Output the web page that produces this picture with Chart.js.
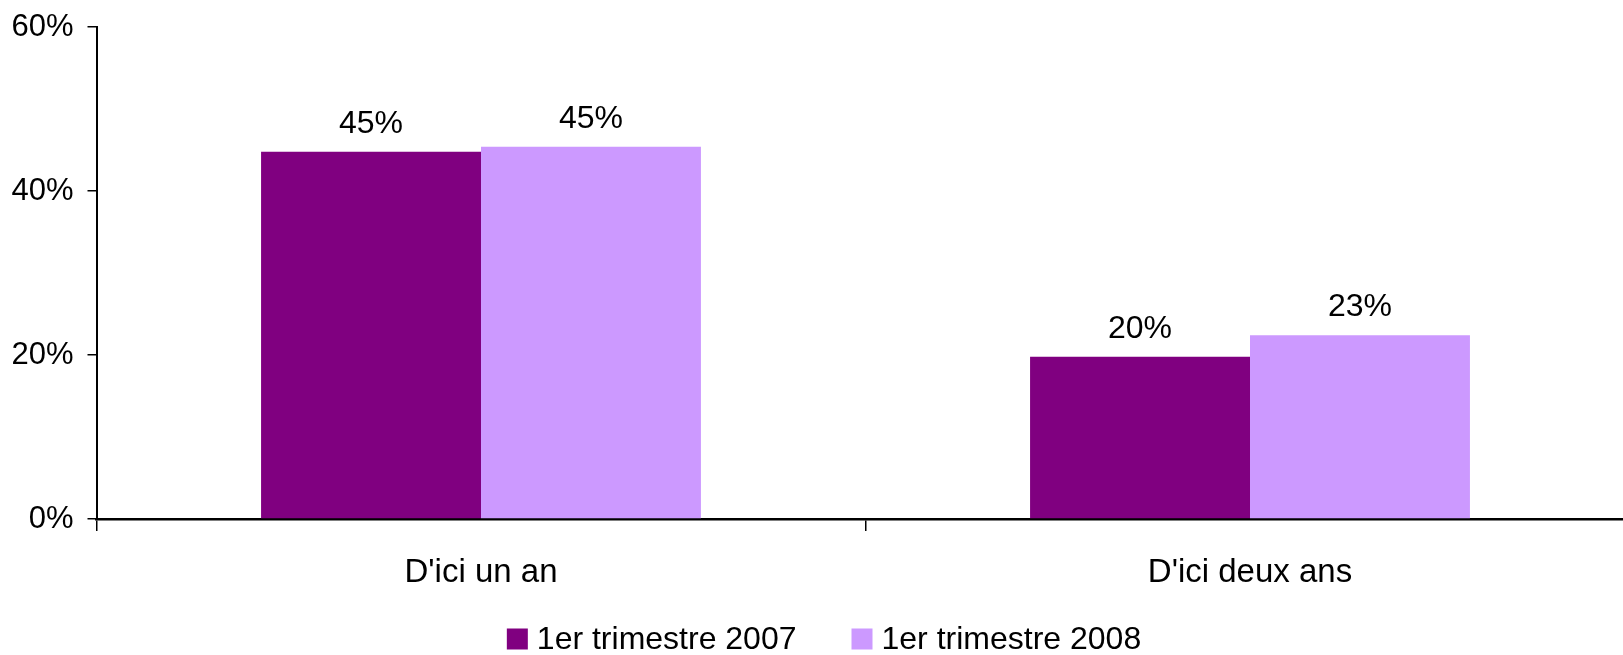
<!DOCTYPE html>
<html>
<head>
<meta charset="utf-8">
<script src="https://cdn.jsdelivr.net/npm/chart.js@4/dist/chart.umd.min.js"></script>
<style>
  html, body { margin: 0; padding: 0; background: #fff; overflow: hidden; width: 1623px; height: 655px; }
  #wrap { position: absolute; left: 0; top: 0; width: 1636px; height: 655px; }
  canvas { display: block; }
</style>
</head>
<body>
<div id="wrap"><canvas id="c" width="1636" height="655"></canvas></div>
<script>
const categories = ["D'ici un an", "D'ici deux ans"];
const seriesNames = ["1er trimestre 2007", "1er trimestre 2008"];
const values2007 = [44.8, 19.8];
const values2008 = [45.4, 22.4];
const labels2007 = ["45%", "20%"];
const labels2008 = ["45%", "23%"];
const yTicks = [0, 20, 40, 60];

const FONT = "'Liberation Sans', Arial, sans-serif";

const valueLabels = {
  id: 'valueLabels',
  afterDatasetsDraw(chart) {
    const ctx = chart.ctx;
    const texts = [labels2007, labels2008];
    ctx.save();
    ctx.font = "32px " + FONT;
    ctx.fillStyle = '#000';
    ctx.textAlign = 'center';
    ctx.textBaseline = 'alphabetic';
    chart.data.datasets.forEach((ds, i) => {
      const meta = chart.getDatasetMeta(i);
      meta.data.forEach((bar, j) => {
        ctx.fillText(texts[i][j], bar.x, bar.y - 19);
      });
    });
    ctx.restore();
  }
};

// Bottom legend drawn from the datasets' own labels and colours
const bottomLegend = {
  id: 'bottomLegend',
  afterDraw(chart) {
    const ctx = chart.ctx;
    const box = 21, gapText = 9, gapItem = 55, cx = 824, cy = 639;
    ctx.save();
    ctx.font = "32px " + FONT;
    ctx.textBaseline = 'middle';
    ctx.textAlign = 'left';
    const items = chart.data.datasets.map(ds => ({ text: ds.label, color: ds.backgroundColor, w: ctx.measureText(ds.label).width }));
    let total = 0;
    items.forEach((it, i) => { total += box + gapText + it.w + (i ? gapItem : 0); });
    let x = cx - total / 2;
    items.forEach((it, i) => {
      if (i) x += gapItem;
      ctx.fillStyle = it.color;
      ctx.fillRect(x, cy - box / 2, box, box);
      x += box + gapText;
      ctx.fillStyle = '#000';
      ctx.fillText(it.text, x, cy + 1);
      x += it.w;
    });
    ctx.restore();
  }
};

new Chart(document.getElementById('c'), {
  type: 'bar',
  data: {
    labels: categories,
    datasets: [
      { label: seriesNames[0], data: values2007, backgroundColor: '#800080', borderWidth: 0 },
      { label: seriesNames[1], data: values2008, backgroundColor: '#CC99FF', borderWidth: 0 }
    ]
  },
  options: {
    responsive: false,
    animation: false,
    devicePixelRatio: 1,
    layout: { padding: { top: 27, right: 1.5, left: 0, bottom: 58 } },
    datasets: { bar: { categoryPercentage: 0.572, barPercentage: 1.0 } },
    plugins: {
      tooltip: { enabled: false },
      legend: { display: false }
    },
    scales: {
      x: {
        grid: { display: true, drawOnChartArea: false, drawTicks: true, tickLength: 12, color: '#000', lineWidth: 1.5 },
        border: { display: true, color: '#000', width: 2.5 },
        ticks: { color: '#000', font: { family: FONT, size: 33 }, padding: 22, maxRotation: 0 },
        afterFit(scale) { scale.height = 78; }
      },
      y: {
        min: 0, max: 60,
        afterBuildTicks(scale) { scale.ticks = yTicks.map(v => ({ value: v })); },
        grid: { display: true, drawOnChartArea: false, drawTicks: true, tickLength: 9, color: '#000', lineWidth: 1.5 },
        border: { display: true, color: '#000', width: 2 },
        ticks: { color: '#000', font: { family: FONT, size: 31 }, padding: 14, callback: v => v + '%' },
        afterFit(scale) { scale.width = 96.5; scale.paddingTop = 0; scale.paddingBottom = 0; }
      }
    }
  },
  plugins: [valueLabels, bottomLegend]
});
</script>
</body>
</html>
